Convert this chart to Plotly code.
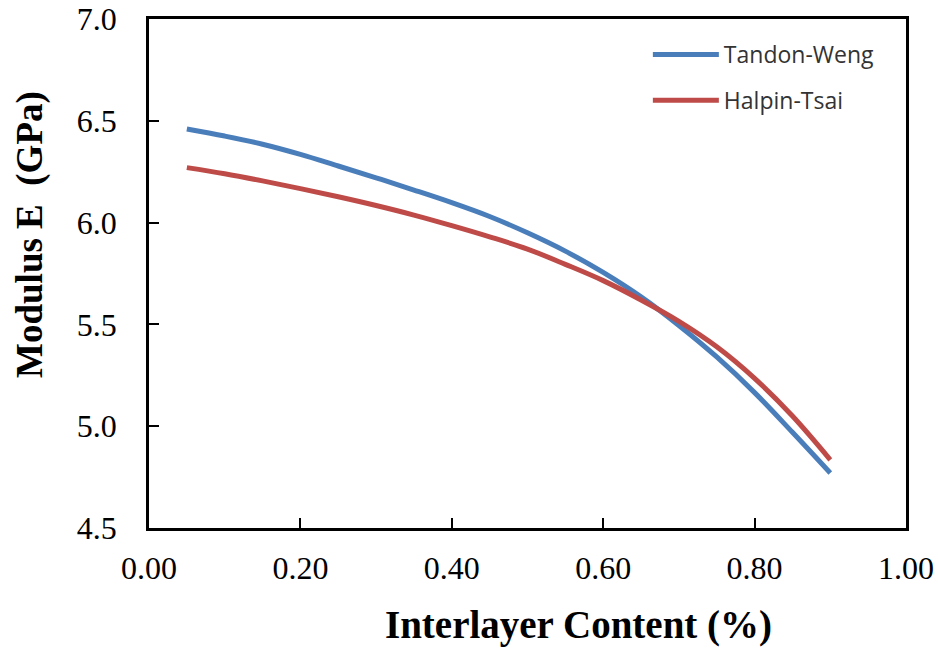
"""Modulus vs interlayer content: Tandon-Weng and Halpin-Tsai"""
import plotly.graph_objects as go

content = [0.05, 0.10, 0.15, 0.20, 0.25, 0.30, 0.35, 0.40, 0.45,
           0.50, 0.55, 0.60, 0.65, 0.70, 0.75, 0.80, 0.85, 0.90]
tandon_weng = [6.46, 6.425, 6.385, 6.335, 6.278, 6.22, 6.16, 6.098, 6.03,
               5.95, 5.86, 5.755, 5.635, 5.495, 5.34, 5.165, 4.97, 4.77]
halpin_tsai = [6.27, 6.24, 6.205, 6.167, 6.127, 6.084, 6.037, 5.985, 5.93,
               5.87, 5.795, 5.715, 5.62, 5.515, 5.39, 5.235, 5.05, 4.835]

x_ticks = [0.0, 0.2, 0.4, 0.6, 0.8, 1.0]
y_ticks = [4.5, 5.0, 5.5, 6.0, 6.5, 7.0]

SERIF = "Liberation Serif"

fig = go.Figure()
fig.add_trace(go.Scatter(x=content, y=tandon_weng, mode="lines", name="Tandon-Weng",
                         legendgroup="tw",
                         line=dict(color="#4a7ebb", width=5, shape="spline")))
fig.add_trace(go.Scatter(x=content, y=halpin_tsai, mode="lines", name="Halpin-Tsai",
                         legendgroup="ht",
                         line=dict(color="#be4b48", width=5, shape="spline")))

axis_common = dict(
    showline=True, linecolor="black", linewidth=2.5, mirror=True,
    ticks="inside", ticklen=10, tickwidth=2, tickcolor="black",
    showgrid=False, zeroline=False, automargin=False,
    tickfont=dict(family=SERIF, size=32, color="black"),
)
fig.update_xaxes(range=[0, 1], tickvals=x_ticks, tickformat=".2f", ticklabelstandoff=10,
                 **axis_common)
fig.update_yaxes(range=[4.5, 7.0], tickvals=y_ticks, tickformat=".1f", ticklabelstandoff=23,
                 **axis_common)

fig.add_annotation(text="<b>Interlayer Content (%)</b>", xref="paper", yref="paper",
                   x=0.568, y=-0.19, showarrow=False, yanchor="middle",
                   font=dict(family=SERIF, size=39, color="black"))
fig.add_annotation(text="<b>Modulus E  (GPa)</b>", xref="paper", yref="paper",
                   x=-0.157, y=0.576, showarrow=False, textangle=-90,
                   xanchor="center", yanchor="middle",
                   font=dict(family=SERIF, size=37, color="black"))

fig.update_layout(
    width=938, height=649,
    margin=dict(l=149, r=32, t=19, b=121),
    paper_bgcolor="white", plot_bgcolor="white",
    showlegend=True,
    legend=dict(x=0.659, y=0.9725, xanchor="left", yanchor="top",
                bgcolor="rgba(0,0,0,0)", tracegroupgap=13, itemwidth=66,
                font=dict(family="Open Sans", size=23, color="#333333")),
)

# drop the browser's default body margin so the figure sits at the page corner
fig.write_html("out.html", config={"displayModeBar": False},
               post_script="document.body.style.margin = '0';")
